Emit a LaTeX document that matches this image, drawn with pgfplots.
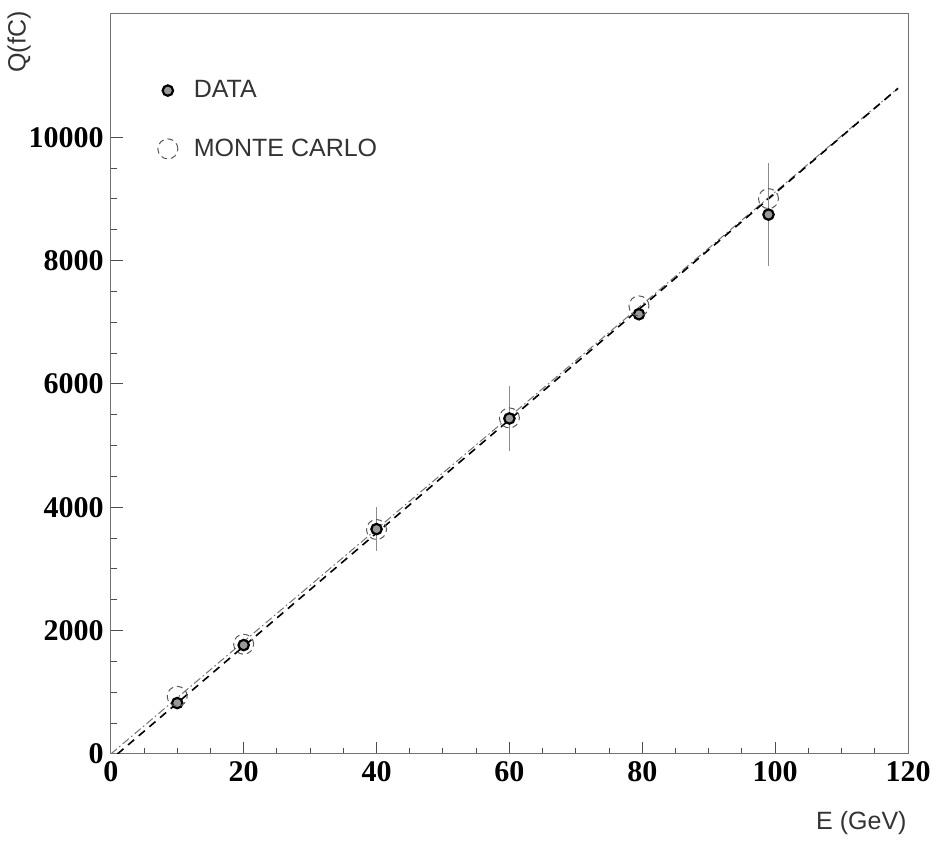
\documentclass[border=0pt]{standalone}
\usepackage{fontspec}
\setmainfont{Liberation Serif}
\newfontfamily\sansf{Liberation Sans}
\usepackage{pgfplots}
\pgfplotsset{compat=1.18}
\begin{document}
\begin{tikzpicture}
\begin{axis}[
 name=ax,
 scale only axis, width=398.6pt, height=370pt,
 xmin=0, xmax=120, ymin=0, ymax=12000,
 xtick={0,20,...,120}, ytick={0,2000,...,10000},
 minor x tick num=3, minor y tick num=3,
 tick align=inside, xtick pos=left, ytick pos=left,
 major tick length=6pt, minor tick length=3pt,
 axis line style={black!55, line width=0.5pt},
 tick style={black!70, line width=0.5pt},
 /pgf/number format/assume math mode=true,
 scaled y ticks=false,
 yticklabel style={/pgf/number format/1000 sep={}},
 ticklabel style={font=\fontsize{15}{15}\selectfont\bfseries},
 xlabel={E (GeV)}, ylabel={Q(fC)},
 label style={font=\sansf\fontsize{12.5}{12.5}\selectfont, text=black!80},
 xlabel style={at={(axis description cs:0.9415,-0.093)}, anchor=center},
 ylabel style={at={(axis description cs:-0.115,0.962)}, anchor=center},
 legend style={draw=none, fill=none, at={(axis description cs:0.051,0.9215)}, anchor=north west,
   font=\sansf\fontsize{12.5}{12.5}\selectfont, text=black!80, row sep=15pt, column sep=6pt},
 legend cell align=left,
]
\addplot[black!55, line width=0.5pt, dash pattern=on 4pt off 1.5pt on 0.8pt off 1.5pt, forget plot]
  coordinates {(0,0) (118.5,10800)};
\addplot[black, line width=0.8pt, dash pattern=on 4pt off 3pt, forget plot]
  coordinates {(1,0) (118.5,10794)};
\addplot[only marks, mark=*, mark size=2.6pt,
  mark options={fill=black!40, draw=black, line width=1.1pt, solid},
  error bars/.cd, y dir=both, y explicit, error mark=none,
  error bar style={black!45, line width=0.4pt}]
  coordinates {
  (10,826) +- (0,0)
  (20,1766) +- (0,0)
  (40,3647) +- (0,355)
  (60,5441) +- (0,525)
  (79.5,7131) +- (0,0)
  (99,8747) +- (0,840)
  };
\addlegendentry{DATA}
\addplot[only marks, mark=o, mark size=5pt,
  mark options={draw=black!65, densely dashed, line width=0.5pt}]
  coordinates {(10,935) (20,1780) (40,3640) (60,5450) (79.5,7266) (99,9006)};
\addlegendentry{MONTE CARLO}
\end{axis}
\pgfresetboundingbox
\path[use as bounding box] ([xshift=-55.4pt,yshift=-44.85pt]ax.south west) rectangle ([xshift=16pt,yshift=7pt]ax.north east);
\end{tikzpicture}
\end{document}
